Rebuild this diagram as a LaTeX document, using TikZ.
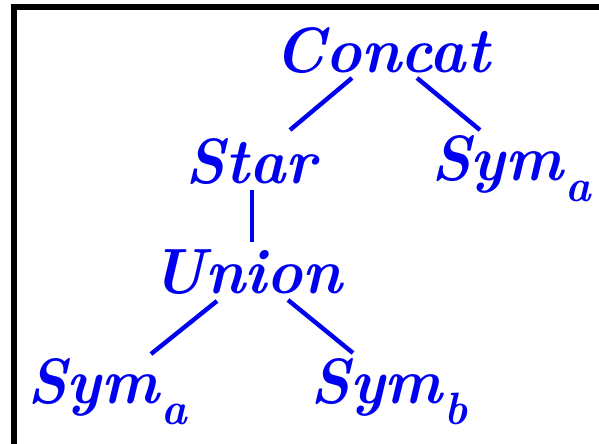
\documentclass[tikz,border=0pt]{standalone}
\usetikzlibrary{calc}
\definecolor{treeblue}{RGB}{0,0,240}
\newcommand{\sq}[1]{\scalebox{0.955}[1]{#1}}
\newcommand{\lbl}[2]{\sq{#1\hspace{2pt}\raisebox{-16pt}{\fontsize{34}{34}\selectfont #2}}}
\tikzset{
  lab/.style={text=treeblue, font=\fontsize{48}{50}\selectfont\bfseries\itshape, inner sep=0pt, anchor=base},
  edge/.style={draw=treeblue, line width=3.3pt}
}
\begin{document}
\begin{tikzpicture}[x=0.75pt, y=-0.75pt]
\useasboundingbox (0,0) rectangle (599,443);
\draw[line width=4.2pt] (14,450) -- (14,7) -- (610,7);
\node[lab] (concat) at (382,72) {\sq{Concat}};
\node[lab] (star) at (251,183) {\sq{Star}};
\node[lab] (syma1) at (511,180) {\lbl{Sym}{a}};
\node[lab] (union) at (247,293) {\sq{Union}};
\node[lab] (syma2) at (107,403) {\lbl{Sym}{a}};
\node[lab] (symb) at (389,403) {\lbl{Sym}{b}};
\draw[edge] ($(concat.base)+(-30,6)$) -- ($(star.base)+(39,-53)$);
\draw[edge] ($(concat.base)+(35,6)$) -- ($(syma1.base)+(-31,-50)$);
\draw[edge] ($(star.base)+(1,7)$) -- ($(union.base)+(5,-51)$);
\draw[edge] ($(union.base)+(-30,8)$) -- ($(syma2.base)+(44,-49)$);
\draw[edge] ($(union.base)+(41,7)$) -- ($(symb.base)+(-36,-50)$);
\end{tikzpicture}
\end{document}
